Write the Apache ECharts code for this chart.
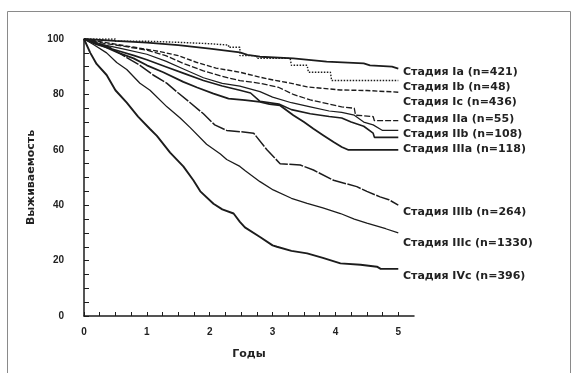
<!DOCTYPE html>
<html>
<head>
<meta charset="utf-8">
<script src="https://cdn.jsdelivr.net/npm/echarts@6/dist/echarts.min.js"></script>
<style>
  html, body { margin: 0; padding: 0; background: #fff; }
  #chart { width: 574px; height: 373px; }
</style>
</head>
<body>
<div id="chart"></div>
<script>
// ticks and labels
var xLabels = [0, 1, 2, 3, 4, 5];
var xTicks = [0, 0.25, 0.5, 0.75, 1, 1.25, 1.5, 1.75, 2, 2.25, 2.5, 2.75, 3, 3.25, 3.5, 3.75, 4, 4.25, 4.5, 4.75, 5];
var yLabels = [0, 20, 40, 60, 80, 100];
var yTicks = [0, 5, 10, 15, 20, 25, 30, 35, 40, 45, 50, 55, 60, 65, 70, 75, 80, 85, 90, 95, 100];

// survival curves, [years, %]
var stageIa = [[0,100],[0.5,99.3],[1.0,98.7],[1.5,97.8],[2.0,96.5],[2.48,95.2],[2.6,94.3],[2.8,93.6],[3.33,93],[3.86,91.8],[4.45,91.2],[4.55,90.5],[4.9,90],[5.0,89.3]];
var stageIb = [[0,100],[0.5,99.2],[1.0,98.8],[1.5,98.3],[2.0,97.8],[2.3,97],[2.48,94],[2.75,93],[3.28,92.6],[3.3,90.5],[3.55,90.5],[3.57,88],[3.92,88],[3.94,85],[5.0,85]];
var stageIc = [[0,100],[0.4,98.5],[0.8,97],[1.2,95.5],[1.5,94],[1.8,91.5],[2.1,89.5],[2.48,88],[2.8,86.2],[3.01,85.2],[3.3,84],[3.55,82.7],[4.08,81.6],[4.5,81.4],[5.0,80.8]];
var stageIIa = [[0,100],[0.3,98.5],[0.6,97.5],[1.0,96],[1.3,94],[1.6,91],[1.9,88.5],[2.2,86.5],[2.48,85],[2.8,84],[3.1,82.5],[3.33,80],[3.6,78],[3.9,76.5],[4.1,75.5],[4.3,75],[4.32,72.5],[4.6,72],[4.62,70.5],[5.0,70.5]];
var stageIIc = [[0,100],[0.3,98],[0.6,96.5],[1.0,94.5],[1.3,92],[1.6,89],[1.9,86],[2.2,84],[2.48,83],[2.8,81],[3.0,79],[3.3,77],[3.6,75.5],[3.9,74],[4.1,73.5],[4.3,72.5],[4.45,70],[4.6,69],[4.75,67],[5.0,67]];
var stageIIb = [[0,100],[0.2,98],[0.5,96],[0.8,94],[1.0,92.5],[1.3,90],[1.6,87.5],[1.9,85],[2.2,83],[2.48,81.5],[2.65,80.5],[2.8,77.5],[3.1,76.5],[3.3,74.5],[3.6,73],[3.9,72],[4.1,71.5],[4.25,70],[4.45,68.5],[4.6,66],[4.62,64.5],[5.0,64.5]];
var stageIIIa = [[0,100],[0.3,97.5],[0.55,95],[0.79,93],[1.0,90.5],[1.26,88],[1.58,84.5],[1.8,82.5],[2.06,80.3],[2.3,78.5],[2.56,77.9],[2.8,77.3],[2.95,76.5],[3.12,76],[3.33,72.5],[3.5,70],[3.65,67.6],[3.81,65.2],[3.97,62.8],[4.1,61],[4.2,60],[5.0,60]];
var stageIIIb = [[0,100],[0.2,98.5],[0.41,97],[0.7,93],[0.89,90.5],[1.1,87],[1.32,84],[1.5,80.5],[1.69,77],[1.9,73],[2.08,69],[2.27,67],[2.5,66.5],[2.7,66],[2.91,60],[3.12,55],[3.44,54.5],[3.65,52.7],[3.97,49],[4.34,46.7],[4.5,45],[4.71,43],[4.85,42],[5.0,40]];
var stageIIIc = [[0,100],[0.15,98],[0.36,95],[0.52,91.5],[0.68,89],[0.89,84],[1.05,81.5],[1.32,75.5],[1.53,71.5],[1.69,68],[1.95,62],[2.17,58.5],[2.27,56.5],[2.48,54],[2.56,52.5],[2.8,48.5],[3.01,45.5],[3.3,42.5],[3.55,40.7],[3.8,39],[4.08,37],[4.3,35],[4.5,33.5],[4.8,31.5],[5.0,30]];
var stageIVc = [[0,100],[0.1,95],[0.2,91],[0.36,87],[0.5,81.5],[0.68,77],[0.86,72],[1.05,67.5],[1.16,65],[1.37,59],[1.58,54],[1.74,49],[1.85,45],[2.06,40.5],[2.2,38.5],[2.38,37],[2.48,34],[2.56,32],[2.8,28.5],[3.0,25.5],[3.07,25],[3.3,23.5],[3.55,22.6],[3.8,21],[4.08,19],[4.4,18.5],[4.66,17.8],[4.72,17],[5.0,17]];

var stageLabels = ["Стадия Ia (n=421)", "Стадия Ib (n=48)", "Стадия Ic (n=436)", "Стадия IIa (n=55)",
  "Стадия IIb (n=108)", "Стадия IIIa (n=118)", "Стадия IIIb (n=264)", "Стадия IIIc (n=1330)", "Стадия IVc (n=396)"];

var ink = "#1c1c1c";

function curve(name, data, width, dash, step) {
  return {
    name: name,
    type: "line",
    data: data,
    step: step ? "end" : false,
    showSymbol: false,
    silent: true,
    lineStyle: { color: ink, width: width, type: dash }
  };
}

var chart = echarts.init(document.getElementById("chart"));

// label rows to the right of the curves
var labelTops = [71.7, 86.7, 101.7, 119, 134.3, 149, 212.3, 243.3, 275.7];
var labels = stageLabels.map(function (t, i) {
  return {
    type: "text",
    x: 403,
    y: labelTops[i],
    style: { text: t, font: 'bold 11px "DejaVu Sans"', fill: "#222", verticalAlign: "middle" }
  };
});

chart.setOption({
  animation: false,
  backgroundColor: "#fff",
  grid: { left: 84, right: 160, top: 39, bottom: 57, containLabel: false, outerBoundsMode: "none" },
  xAxis: {
    type: "value",
    min: 0,
    max: 5.25,
    name: "Годы",
    nameLocation: "middle",
    nameGap: 33,
    nameTextStyle: { fontFamily: "DejaVu Sans", fontWeight: "bold", fontSize: 11, color: "#222" },
    axisLine: { show: true, lineStyle: { color: ink, width: 1.5 } },
    axisTick: { show: true, inside: true, length: 4, customValues: xTicks, lineStyle: { color: ink } },
    axisLabel: { customValues: xLabels, margin: 11, fontFamily: "Liberation Sans", fontWeight: "bold", fontSize: 10, color: "#222" },
    splitLine: { show: false }
  },
  yAxis: {
    type: "value",
    min: 0,
    max: 100,
    name: "Выживаемость",
    nameLocation: "middle",
    nameGap: 47,
    nameTextStyle: { fontFamily: "DejaVu Sans", fontWeight: "bold", fontSize: 11, color: "#222" },
    axisLine: { show: true, lineStyle: { color: ink, width: 1.5 } },
    axisTick: { show: true, inside: true, length: 5, customValues: yTicks, lineStyle: { color: ink } },
    axisLabel: { customValues: yLabels, margin: 20, fontFamily: "Liberation Sans", fontWeight: "bold", fontSize: 10, color: "#222" },
    splitLine: { show: false }
  },
  graphic: [
    { type: "rect", shape: { x: 7.5, y: 11.5, width: 563, height: 380 }, style: { fill: "none", stroke: "#8a8a8a", lineWidth: 1 } }
  ].concat(labels),
  series: [
    curve("Ia", stageIa, 1.8, "solid", false),
    curve("Ib", stageIb, 1.4, [1.5, 1.5], true),
    curve("Ic", stageIc, 1.4, [5, 2], false),
    curve("IIa", stageIIa, 1.3, [6, 2], false),
    curve("IIc", stageIIc, 1.2, "solid", false),
    curve("IIb", stageIIb, 1.6, "solid", false),
    curve("IIIa", stageIIIa, 1.8, "solid", false),
    curve("IIIb", stageIIIb, 1.5, [14, 1.5], false),
    curve("IIIc", stageIIIc, 1.3, "solid", false),
    curve("IVc", stageIVc, 1.9, "solid", false)
  ]
});
</script>
</body>
</html>
